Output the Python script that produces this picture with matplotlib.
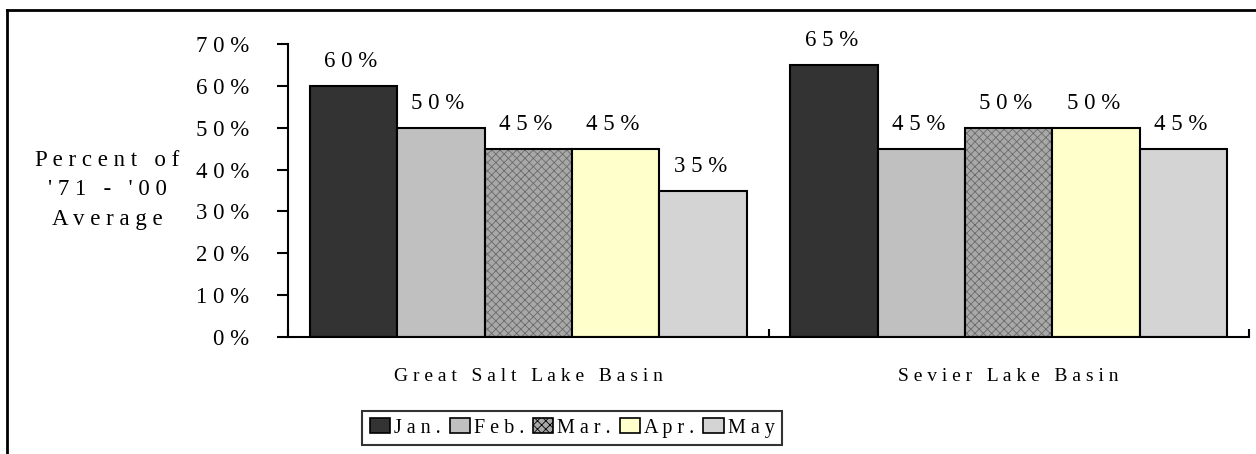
import numpy as np
import matplotlib.pyplot as plt
from matplotlib.patches import Patch
from matplotlib.lines import Line2D

basins = ["Great Salt Lake Basin", "Sevier Lake Basin"]
months = ["Jan.", "Feb.", "Mar.", "Apr.", "May"]
jan = [0.60, 0.65]
feb = [0.50, 0.45]
mar = [0.45, 0.50]
apr = [0.45, 0.50]
may = [0.35, 0.45]

colors = ["#333333", "#c0c0c0", "#a8a8a8", "#ffffcc", "#d4d4d4"]
hatches = [None, None, "xxxx", None, None]

plt.rcParams['font.family'] = ['Liberation Serif', 'DejaVu Serif']


def spaced(s):
    # mimic the wide letter spacing of the original
    return " ".join(s)


fig = plt.figure(figsize=(12.56, 4.54), dpi=100)
ax = fig.add_axes([288 / 1256, 1 - 337 / 454, (1249 - 288) / 1256, (337 - 44) / 454])

x = np.arange(len(basins))
w = 0.909 / 5
series = [jan, feb, mar, apr, may]
plt.rcParams['hatch.linewidth'] = 0.6
for i, vals in enumerate(series):
    pos = x + (i - 2) * w
    if hatches[i]:
        ax.bar(pos, vals, w, color=colors[i], edgecolor="#6a6a6a", hatch=hatches[i], linewidth=0)
        ax.bar(pos, vals, w, fill=False, edgecolor="black", linewidth=1.5)
    else:
        ax.bar(pos, vals, w, color=colors[i], edgecolor="black", linewidth=1.5)
    for p, v in zip(pos, vals):
        ax.annotate(spaced("%d%%" % round(v * 100)), (p, v), xytext=(-2, 10),
                    textcoords="offset points", ha="center", va="bottom", fontsize=16.5)

ticks = np.arange(0, 0.71, 0.1)
ax.set_xlim(-0.5, 1.5)
ax.set_ylim(0, 0.7)
ax.set_yticks(ticks)
ax.set_yticklabels([spaced("%d%%" % round(t * 100)) for t in ticks], fontsize=16.5)
ax.tick_params(axis="y", length=8, width=1.5, pad=20)

ax.set_xticks([-0.5, 0.5, 1.5])
ax.set_xticklabels([])
ax.tick_params(axis="x", direction="in", length=6, width=1.5)
for xi, name in zip(x, basins):
    ax.text(xi, -0.095, spaced(name), ha="center", va="center", fontsize=14)

for s in ["top", "right"]:
    ax.spines[s].set_visible(False)
for s in ["left", "bottom"]:
    ax.spines[s].set_linewidth(1.5)

ylab = "\n".join([spaced("Percent of"), spaced("'71 - '00"), spaced("Average")])
fig.text(107 / 1256, 1 - 190 / 454, ylab, ha="center", va="center", multialignment="center",
         fontsize=16.5, linespacing=1.55)

handles = [Patch(facecolor=c, edgecolor="black", linewidth=1.2, hatch=h) for c, h in zip(colors, hatches)]
leg = fig.legend(handles, [spaced(m) for m in months], loc="center",
                 bbox_to_anchor=(572 / 1256, 1 - 428 / 454),
                 ncol=5, fontsize=14.5, frameon=True, fancybox=False, edgecolor="black",
                 handlelength=1.0, handleheight=0.7, handletextpad=0.2, columnspacing=0.45,
                 borderpad=0.35, borderaxespad=0)
leg.get_frame().set_linewidth(1.5)

# cropped outer frame (top and left edges)
fig.add_artist(Line2D([7 / 1256, 1], [1 - 10 / 454, 1 - 10 / 454], color="black", linewidth=2))
fig.add_artist(Line2D([7 / 1256, 7 / 1256], [0, 1 - 10 / 454], color="black", linewidth=2))

fig.savefig("out.png", dpi=100)
